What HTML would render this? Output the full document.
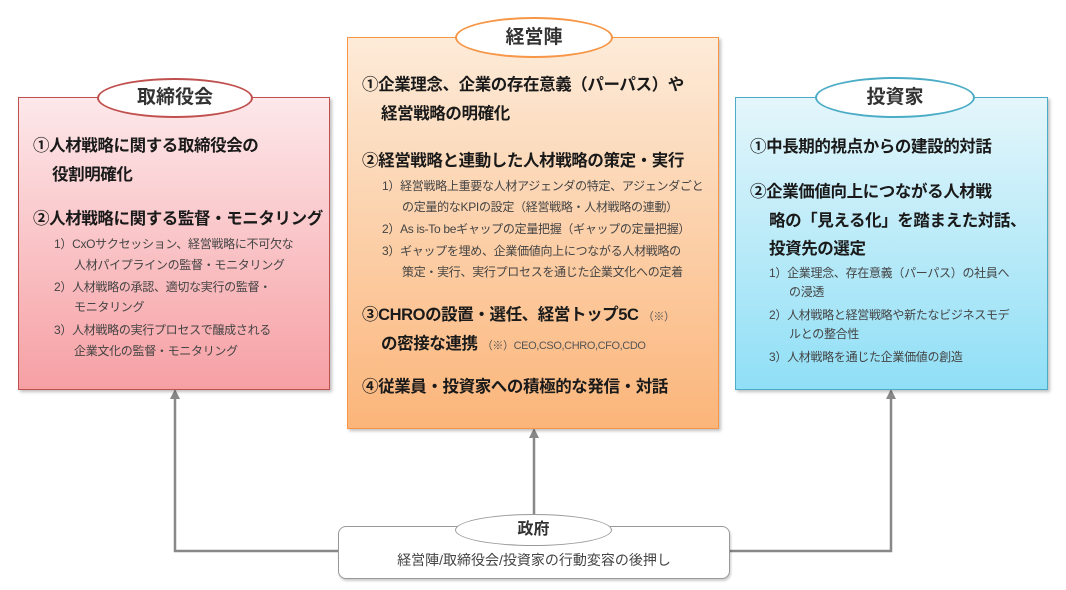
<!DOCTYPE html>
<html><head><meta charset="utf-8"><style>
body{margin:0;width:1066px;height:590px;background:#fff;position:relative;overflow:hidden;font-family:"Liberation Sans","Noto Sans CJK JP",sans-serif;color:#222}
.box{position:absolute;box-shadow:2px 2px 3px rgba(0,0,0,.25)}
.ell{position:absolute;border-radius:50%;background:#fff;text-align:center;font-weight:bold;font-size:19px;color:#333;box-sizing:border-box}
.t{position:absolute;white-space:nowrap}
.h{font-weight:bold;font-size:16.5px;letter-spacing:-0.4px;color:#1a1a1a}
.s{font-size:12px;color:#444;letter-spacing:-0.3px}
</style></head><body>
<svg width="1066" height="590" style="position:absolute;left:0;top:0">
<g stroke="#888" stroke-width="2.5" fill="none">
<polyline points="338,551 175,551 175,396"/>
<polyline points="729,551 891,551 891,396"/>
<line x1="534" y1="514" x2="534" y2="435"/>
</g>
<g fill="#888">
<polygon points="175,389 170,399 180,399"/>
<polygon points="891,389 886,399 896,399"/>
<polygon points="534,428 529,438 539,438"/>
</g>
</svg>
<div class="box" style="left:18px;top:97px;width:310px;height:291px;border:1.5px solid #c0504d;background:linear-gradient(#fde8ea,#f6a0a4)"></div>
<div class="box" style="left:347px;top:37px;width:370px;height:390px;border:1.5px solid #f79646;background:linear-gradient(#fdebd9,#fbb57a)"></div>
<div class="box" style="left:735px;top:97px;width:311px;height:291px;border:1.5px solid #4bacc6;background:linear-gradient(#e4f6fb,#90dff6)"></div>
<div class="box" style="left:338px;top:526px;width:390px;height:51px;border:1.5px solid #999;border-radius:8px;background:#fff;box-shadow:1px 2px 2px rgba(0,0,0,.2)"></div>

<div class="ell" style="left:97px;top:78px;width:156px;height:40px;border:2px solid #c0504d;line-height:36px">取締役会</div>
<div class="ell" style="left:455px;top:17px;width:158px;height:41px;border:2px solid #f79646;line-height:37px">経営陣</div>
<div class="ell" style="left:815px;top:77px;width:160px;height:41px;border:2px solid #4bacc6;line-height:37px">投資家</div>
<div class="ell" style="left:455px;top:514px;width:157px;height:32px;border:1.5px solid #999;line-height:30px;font-size:16px">政府</div>
<div class="t" style="left:367px;top:550px;font-size:14px;color:#444;width:334px;text-align:center">経営陣/取締役会/投資家の行動変容の後押し</div>

<!-- left -->
<div class="t h" style="left:33px;top:132px">①人材戦略に関する取締役会の</div>
<div class="t h" style="left:52px;top:161px">役割明確化</div>
<div class="t h" style="left:33px;top:205px">②人材戦略に関する監督・モニタリング</div>
<div class="t s" style="left:54px;top:235px">1）CxOサクセッション、経営戦略に不可欠な</div>
<div class="t s" style="left:74px;top:256px">人材パイプラインの監督・モニタリング</div>
<div class="t s" style="left:54px;top:278px">2）人材戦略の承認、適切な実行の監督・</div>
<div class="t s" style="left:74px;top:298px">モニタリング</div>
<div class="t s" style="left:54px;top:321px">3）人材戦略の実行プロセスで醸成される</div>
<div class="t s" style="left:74px;top:342px">企業文化の監督・モニタリング</div>

<!-- center -->
<div class="t h" style="left:362px;top:71px">①企業理念、企業の存在意義（パーパス）や</div>
<div class="t h" style="left:381px;top:100px">経営戦略の明確化</div>
<div class="t h" style="left:362px;top:147px">②経営戦略と連動した人材戦略の策定・実行</div>
<div class="t s" style="left:382px;top:177px">1）経営戦略上重要な人材アジェンダの特定、アジェンダごと</div>
<div class="t s" style="left:402px;top:198px">の定量的なKPIの設定（経営戦略・人材戦略の連動）</div>
<div class="t s" style="left:382px;top:220px">2）As is-To beギャップの定量把握（ギャップの定量把握）</div>
<div class="t s" style="left:382px;top:242px">3）ギャップを埋め、企業価値向上につながる人材戦略の</div>
<div class="t s" style="left:402px;top:263px">策定・実行、実行プロセスを通じた企業文化への定着</div>
<div class="t h" style="left:362px;top:301px">③CHROの設置・選任、経営トップ5C <span style="font-size:11px;font-weight:normal;color:#555">（※）</span></div>
<div class="t h" style="left:381px;top:330px">の密接な連携 <span style="font-size:11px;font-weight:normal;color:#555">（※）CEO,CSO,CHRO,CFO,CDO</span></div>
<div class="t h" style="left:362px;top:373px">④従業員・投資家への積極的な発信・対話</div>

<!-- right -->
<div class="t h" style="left:750px;top:133px">①中長期的視点からの建設的対話</div>
<div class="t h" style="left:750px;top:178px">②企業価値向上につながる人材戦</div>
<div class="t h" style="left:769px;top:207px">略の「見える化」を踏まえた対話、</div>
<div class="t h" style="left:769px;top:235px">投資先の選定</div>
<div class="t s" style="left:769px;top:264px">1）企業理念、存在意義（パーパス）の社員へ</div>
<div class="t s" style="left:789px;top:283px">の浸透</div>
<div class="t s" style="left:769px;top:306px">2）人材戦略と経営戦略や新たなビジネスモデ</div>
<div class="t s" style="left:789px;top:325px">ルとの整合性</div>
<div class="t s" style="left:769px;top:348px">3）人材戦略を通じた企業価値の創造</div>
</body></html>
